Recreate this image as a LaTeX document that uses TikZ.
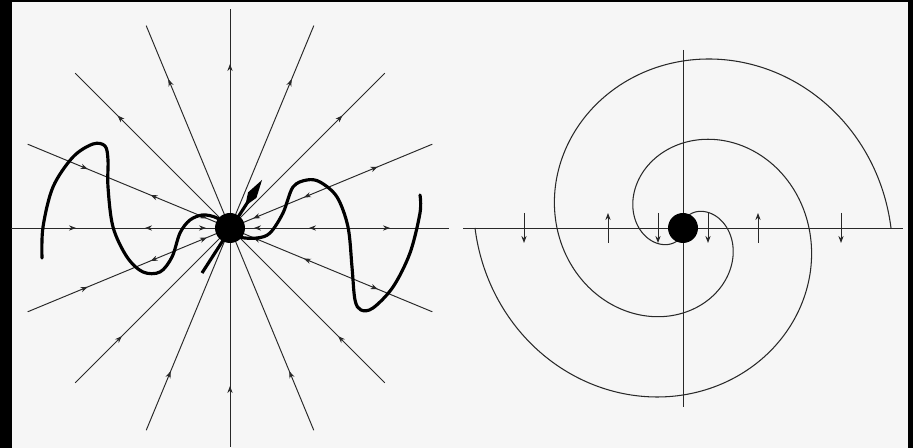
\documentclass[tikz,border=0pt]{standalone}
\usepackage{tikz}
\usetikzlibrary{arrows.meta, positioning}
\definecolor{paper}{RGB}{246,246,246}
\definecolor{inkgray}{RGB}{40,40,40}

\begin{document}
\begin{tikzpicture}[
    x=0.02cm, y=0.02cm,
    ray/.style={inkgray, line width=0.55pt},
    flowtip/.style={-{Stealth[length=4pt, width=3pt]}, inkgray, line width=0.55pt},
    curve/.style={black, line width=1.8pt, line cap=round, line join=round},
    sink/.style={circle, fill=black, inner sep=0pt, minimum size=0.6cm},
    spiral/.style={inkgray, line width=0.6pt},
    bigarrow/.style={-{Kite[length=0.62cm, width=0.2cm, inset=0.26cm]}, line width=1.8pt, black}
]
% Frame
\useasboundingbox (-230,-220) rectangle (683,228);
\fill[black] (-230,-220) rectangle (683,228);
\fill[paper] (-218,-220) rectangle (678,226);

% Left panel: rays through the sink
\coordinate (origL) at (0,0);
\foreach \a in {0,22.5,...,337.5}
  \draw[ray] (origL) -- (\a:219);

% Flow direction on the rays (1 = outward, -1 = inward)
\foreach \a/\r/\s in {90/161/1, 270/161/-1, 67.5/158/1, 112.5/158/1, 247.5/158/-1, 292.5/158/-1,
    45/156/1, 135/156/1, 225/156/-1, 315/156/-1,
    0/27/-1, 0/82/-1, 0/157/1, 22.5/28/-1, 22.5/83/-1, 22.5/157/1, 337.5/28/-1, 337.5/83/-1, 337.5/157/1,
    180/27/-1, 180/82/1, 180/157/-1, 157.5/28/-1, 157.5/83/1, 157.5/157/-1, 202.5/28/-1, 202.5/83/1, 202.5/157/-1}
  \draw[flowtip] ({\a}:{\r-3*\s}) -- ({\a}:{\r+3*\s});

% Thick curve
\draw[curve] plot[smooth, tension=0.55] coordinates {
    (-188,-30) (-187,1) (-177,41) (-157,71) (-137,84) (-125,82) (-122,68) (-122,41)
    (-117,1) (-103,-29) (-87,-44) (-70,-44) (-58,-29) (-50,-5) (-40,8) (-27,13) (-13,10) (0,0)
    (10,-9) (27,-10) (40,-5) (53,15) (63,41) (77,48) (90,46) (107,31) (118,1)
    (122,-39) (125,-72) (131,-82) (143,-80) (163,-59) (180,-25) (190,15) (190,33)};

% Sink and thick arrow
\node[sink] (sinkL) at (origL) {};
\coordinate (tailL) at (-28,-45);
\coordinate (headL) at (32,48);
\draw[bigarrow] (tailL) -- (headL);

% Right panel: axes
\coordinate (origR) at (453,0);
\coordinate (axW) at (233,0);
\coordinate (axE) at (673,0);
\coordinate (axN) at (453,178);
\coordinate (axS) at (453,-179);
\draw[ray] (axW) -- (axE);
\draw[ray] (axN) -- (axS);

% Two spiral arms
\draw[spiral] plot[domain=0:425, samples=240, smooth]
    ({453+(208-0.4555*\x)*cos(\x)}, {(208-0.4555*\x)*sin(\x)});
\draw[spiral] plot[domain=0:425, samples=240, smooth]
    ({453+(208-0.4555*\x)*cos(\x+180)}, {(208-0.4555*\x)*sin(\x+180)});

% Flow marks on the axis (1 = up, -1 = down)
\foreach \dx/\s in {-159/-1, -75/1, -25/-1, 25/-1, 75/1, 158/-1}
  \draw[flowtip] (453+\dx, -15*\s) -- (453+\dx, 15*\s);

\node[sink] (sinkR) at (origR) {};
\end{tikzpicture}
\end{document}
